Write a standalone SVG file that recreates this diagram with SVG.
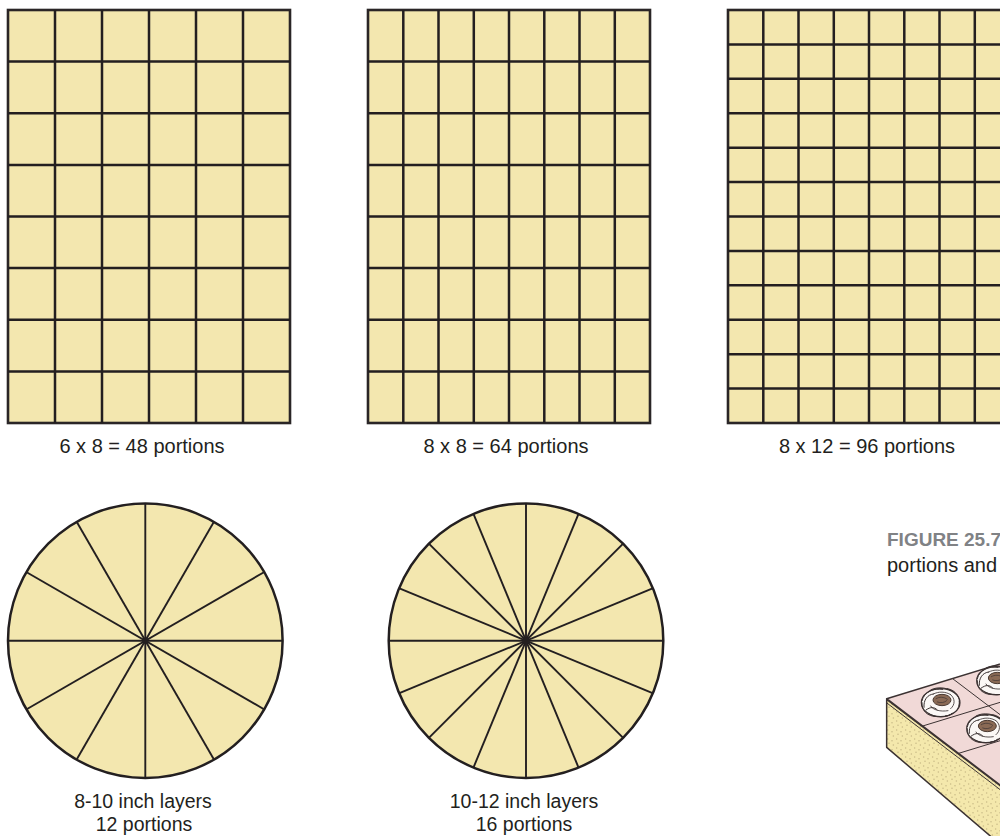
<svg xmlns="http://www.w3.org/2000/svg" width="1000" height="836" viewBox="0 0 1000 836">
  <style>
    .frame { fill: #f3e7af; stroke: #2a2526; stroke-width: 2.6; }
    .cut { stroke: #231f20; stroke-width: 2.5; fill: none; }
    .spoke { stroke: #231f20; stroke-width: 1.9; fill: none; }
    .label { font-family: "Liberation Sans", Arial, sans-serif; font-size: 20px; fill: #231f20; text-anchor: middle; }
    .label-sm { font-family: "Liberation Sans", Arial, sans-serif; font-size: 19.5px; fill: #231f20; text-anchor: middle; }
    .caption { font-family: "Liberation Sans", Arial, sans-serif; font-size: 20px; fill: #231f20; }
    .caption-title { font-family: "Liberation Sans", Arial, sans-serif; font-size: 19px; font-weight: bold; fill: #808285; }
    .ink { stroke: #3b3232; fill: none; stroke-linejoin: round; stroke-linecap: round; }
  </style>
  <defs>
    <pattern id="crumb" width="27" height="27" patternUnits="userSpaceOnUse">
      <rect width="27" height="27" fill="#f4e8ac"/>
      <circle cx="5" cy="6" r="2.2" fill="#c8b985"/>
      <circle cx="18" cy="11" r="2.2" fill="#c8b985"/>
      <circle cx="9" cy="19" r="2.2" fill="#c8b985"/>
      <circle cx="22" cy="24" r="2.2" fill="#c8b985"/>
    </pattern>
    <!-- piped cream rosette with a nut on top -->
    <g id="rosette">
      <ellipse cx="0" cy="4" rx="58" ry="42" fill="#fbf8f6" stroke="#3b3232" stroke-width="3.5"/>
      <path class="ink" stroke-width="3" d="M-56,-2 C-50,-30 -20,-40 6,-36 M-30,-34 C-10,-46 28,-42 46,-22 M20,-38 C46,-34 60,-12 56,12 M56,0 C58,24 40,42 14,44 M34,36 C20,50 -14,50 -34,38 M-10,46 C-40,46 -58,28 -56,4 M-50,18 C-52,-4 -40,-20 -22,-22 M-44,26 C-30,16 -20,16 -10,26"/>
      <path class="ink" stroke-width="2.5" d="M-22,-22 C-6,-30 14,-30 30,-20 M30,-20 C44,-8 44,10 30,22 M-30,14 C-24,26 0,32 22,28"/>
      <ellipse cx="4" cy="-4" rx="27" ry="17" fill="#8a6a55" stroke="#4a3a32" stroke-width="3"/>
      <path class="ink" stroke-width="2" d="M-14,-8 C-4,-14 10,-14 20,-6 M-10,2 C0,6 12,4 18,-2"/>
    </g>
  </defs>

  <!-- sheet cake cut 6 x 8 -->
  <g id="sheet-6x8">
    <rect class="frame" x="8" y="10" width="282" height="413"/>
    <g class="cut">
      <path d="M55,10V423M102,10V423M149,10V423M196,10V423M243,10V423"/>
      <path d="M8,61.6H290M8,113.3H290M8,164.9H290M8,216.5H290M8,268.1H290M8,319.8H290M8,371.4H290"/>
    </g>
    <text class="label" x="142" y="453">6 x 8 = 48 portions</text>
  </g>

  <!-- sheet cake cut 8 x 8 -->
  <g id="sheet-8x8">
    <rect class="frame" x="368" y="10" width="282" height="413"/>
    <g class="cut">
      <path d="M403.3,10V423M438.5,10V423M473.8,10V423M509,10V423M544.3,10V423M579.5,10V423M614.8,10V423"/>
      <path d="M368,61.6H650M368,113.3H650M368,164.9H650M368,216.5H650M368,268.1H650M368,319.8H650M368,371.4H650"/>
    </g>
    <text class="label" x="506" y="453">8 x 8 = 64 portions</text>
  </g>

  <!-- sheet cake cut 8 x 12 -->
  <g id="sheet-8x12">
    <rect class="frame" x="728" y="10" width="282" height="413"/>
    <g class="cut">
      <path d="M763.3,10V423M798.5,10V423M833.8,10V423M869,10V423M904.3,10V423M939.5,10V423M974.8,10V423"/>
      <path d="M728,44.4H1010M728,78.8H1010M728,113.3H1010M728,147.7H1010M728,182.1H1010M728,216.5H1010M728,250.9H1010M728,285.3H1010M728,319.8H1010M728,354.2H1010M728,388.6H1010"/>
    </g>
    <text class="label" x="867" y="453">8 x 12 = 96 portions</text>
  </g>

  <!-- round layer cut in 12 -->
  <g id="round-12">
    <circle cx="145.3" cy="640.7" r="137.3" fill="#f3e7af" stroke="#231f20" stroke-width="2.5"/>
    <g class="spoke" transform="translate(145.3,640.7)">
      <line x1="-137" y1="0" x2="137" y2="0"/>
      <line x1="-137" y1="0" x2="137" y2="0" transform="rotate(30)"/>
      <line x1="-137" y1="0" x2="137" y2="0" transform="rotate(60)"/>
      <line x1="-137" y1="0" x2="137" y2="0" transform="rotate(90)"/>
      <line x1="-137" y1="0" x2="137" y2="0" transform="rotate(120)"/>
      <line x1="-137" y1="0" x2="137" y2="0" transform="rotate(150)"/>
      <circle r="3.2" fill="#231f20" stroke="none"/>
    </g>
    <text class="label-sm" x="143" y="808">8-10 inch layers</text>
    <text class="label-sm" x="144" y="831">12 portions</text>
  </g>

  <!-- round layer cut in 16 -->
  <g id="round-16">
    <circle cx="526" cy="640.7" r="137.3" fill="#f3e7af" stroke="#231f20" stroke-width="2.5"/>
    <g class="spoke" transform="translate(526,640.7)">
      <line x1="-137" y1="0" x2="137" y2="0"/>
      <line x1="-137" y1="0" x2="137" y2="0" transform="rotate(22.5)"/>
      <line x1="-137" y1="0" x2="137" y2="0" transform="rotate(45)"/>
      <line x1="-137" y1="0" x2="137" y2="0" transform="rotate(67.5)"/>
      <line x1="-137" y1="0" x2="137" y2="0" transform="rotate(90)"/>
      <line x1="-137" y1="0" x2="137" y2="0" transform="rotate(112.5)"/>
      <line x1="-137" y1="0" x2="137" y2="0" transform="rotate(135)"/>
      <line x1="-137" y1="0" x2="137" y2="0" transform="rotate(157.5)"/>
      <circle r="3.6" fill="#231f20" stroke="none"/>
    </g>
    <text class="label-sm" x="524" y="808">10-12 inch layers</text>
    <text class="label-sm" x="524" y="831">16 portions</text>
  </g>

  <!-- caption -->
  <g id="caption">
    <text class="caption-title" x="887" y="546">FIGURE 25.7</text>
    <text class="caption" x="887" y="572">portions and</text>
  </g>

  <!-- decorated sheet cake drawn in local units (1 unit = 1/3 px) -->
  <g id="cake" transform="translate(850,620) scale(0.33333)">
    <!-- sponge side -->
    <path d="M110,238 L470,512 L470,690 L110,382 Z" fill="url(#crumb)" stroke="#3b3232" stroke-width="4.5" stroke-linejoin="round"/>
    <!-- iced top -->
    <path d="M110,236 L470,126 L470,510 Z" fill="#f1d9d7" stroke="#3b3232" stroke-width="4.5" stroke-linejoin="round"/>
    <!-- icing lip along the front edge -->
    <path class="ink" stroke-width="3" d="M112,250 L470,524"/>
    <!-- portion cuts on top -->
    <path class="ink" stroke-width="3" d="M308,176 L470,299 M218,318 L470,241 M326,400 L470,356"/>
    <use href="#rosette" transform="translate(272,244)"/>
    <use href="#rosette" transform="translate(438,178)"/>
    <use href="#rosette" transform="translate(408,322)"/>
  </g>
</svg>
